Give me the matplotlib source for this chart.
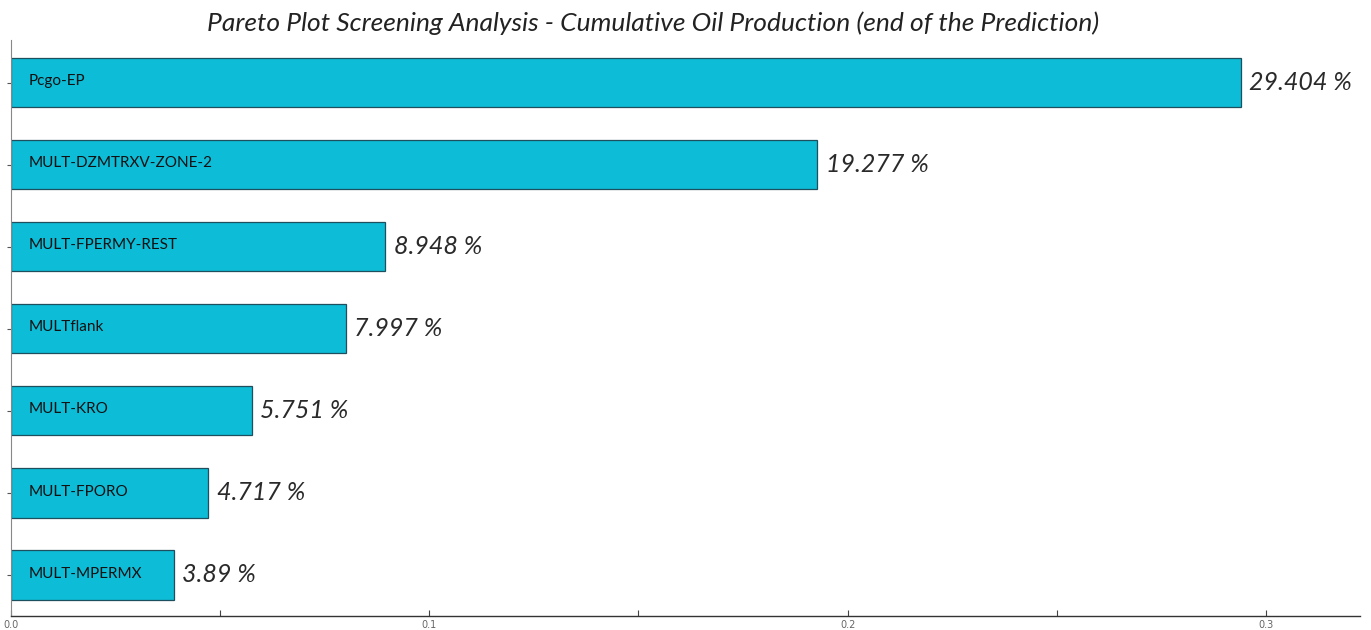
import matplotlib
matplotlib.use("Agg")
import matplotlib.pyplot as plt
from matplotlib.ticker import MultipleLocator, FixedLocator

params = ["Pcgo-EP", "MULT-DZMTRXV-ZONE-2", "MULT-FPERMY-REST", "MULTflank",
          "MULT-KRO", "MULT-FPORO", "MULT-MPERMX"]
values = [0.29404, 0.19277, 0.08948, 0.07997, 0.05751, 0.04717, 0.0389]
value_labels = ["29.404 %", "19.277 %", "8.948 %", "7.997 %", "5.751 %", "4.717 %", "3.89 %"]
x_ticks = [0.0, 0.1, 0.2, 0.3]
x_tick_labels = ["0.0", "0.1", "0.2", "0.3"]
title = "Pareto Plot Screening Analysis - Cumulative Oil Production (end of the Prediction)"

fig = plt.figure(figsize=(13.71, 6.3), dpi=100)
ax = fig.add_axes([11/1371, 14/630, (1360-11)/1371, (616-40)/630])

ypos = list(range(len(params)))
ax.barh(ypos, values, height=0.6, color="#0DBCD7", edgecolor="#1d4f5e", linewidth=0.9)

for y, v, name, lab in zip(ypos, values, params, value_labels):
    ax.annotate(name, (0, y), xytext=(13, 1), textcoords="offset points",
                ha="left", va="center", fontsize=11, family="Lato", color="#111111")
    ax.annotate(lab, (v, y), xytext=(6, 0), textcoords="offset points",
                ha="left", va="center", fontsize=18, family="Lato", style="italic",
                color="#2a2a2a")

ax.set_ylim(len(params) - 0.5, -0.52)
ax.set_xlim(0, 0.3225)
ax.set_yticks(ypos)
ax.set_yticklabels([])
ax.xaxis.set_major_locator(FixedLocator(x_ticks))
ax.set_xticklabels(x_tick_labels)
ax.xaxis.set_minor_locator(MultipleLocator(0.05))
ax.tick_params(axis="x", which="both", direction="in", length=4, width=0.8,
               labelsize=7, colors="#444444", labelcolor="#666666", pad=3)
ax.tick_params(axis="y", which="both", direction="out", length=3, width=0.8, colors="#555555")

for s in ["top", "right"]:
    ax.spines[s].set_visible(False)
ax.spines["left"].set_color("#888888")
ax.spines["bottom"].set_color("#333333")
ax.spines["bottom"].set_linewidth(1.0)

fig.text(0.476, 1 - 23/630, title, ha="center", va="center", fontsize=19,
         family="Lato", style="italic", color="#222222")

fig.savefig("out.png", dpi=100)
